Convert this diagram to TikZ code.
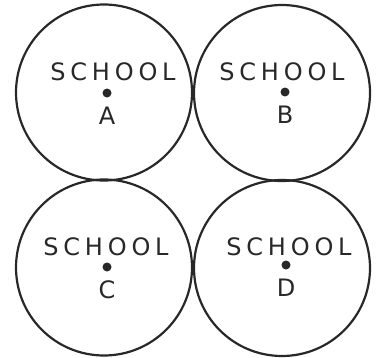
\documentclass[tikz,border=0pt]{standalone}
\usepackage{fontspec}
\usepackage{xcolor}
\usetikzlibrary{positioning}
\newfontfamily\handfont[LetterSpace=20]{DejaVu Sans}
\definecolor{inkgray}{RGB}{40, 40, 40}

\begin{document}
\begin{tikzpicture}[x=1pt, y=1pt,
    zone/.style={circle, draw=inkgray, line width=2.2pt, minimum size=176pt, inner sep=0pt},
    word/.style={font=\handfont\fontsize{24}{24}\selectfont, text=inkgray, inner sep=0pt},
    dotmark/.style={circle, fill=inkgray, minimum size=9pt, inner sep=0pt}]
    \useasboundingbox (0,0) rectangle (383,357);
    \node[zone] (zoneA) at (104,264.5) {};
    \node[zone] (zoneB) at (282,264) {};
    \node[zone] (zoneC) at (104,89.5) {};
    \node[zone] (zoneD) at (282,89) {};
    \node[word] (schoolA) at (113,285) {SCHOOL};
    \node[word] (schoolB) at (282,285) {SCHOOL};
    \node[word] (schoolC) at (106,110) {SCHOOL};
    \node[word] (schoolD) at (289,110) {SCHOOL};
    \node[dotmark] (dotA) at (107,264) {};
    \node[dotmark] (dotB) at (285,265) {};
    \node[dotmark] (dotC) at (107,90) {};
    \node[dotmark] (dotD) at (286,92) {};
    \node[word, below=9pt of dotA] (letterA) {A};
    \node[word, below=9pt of dotB] (letterB) {B};
    \node[word, below=9pt of dotC] (letterC) {C};
    \node[word, below=9pt of dotD] (letterD) {D};
\end{tikzpicture}
\end{document}
